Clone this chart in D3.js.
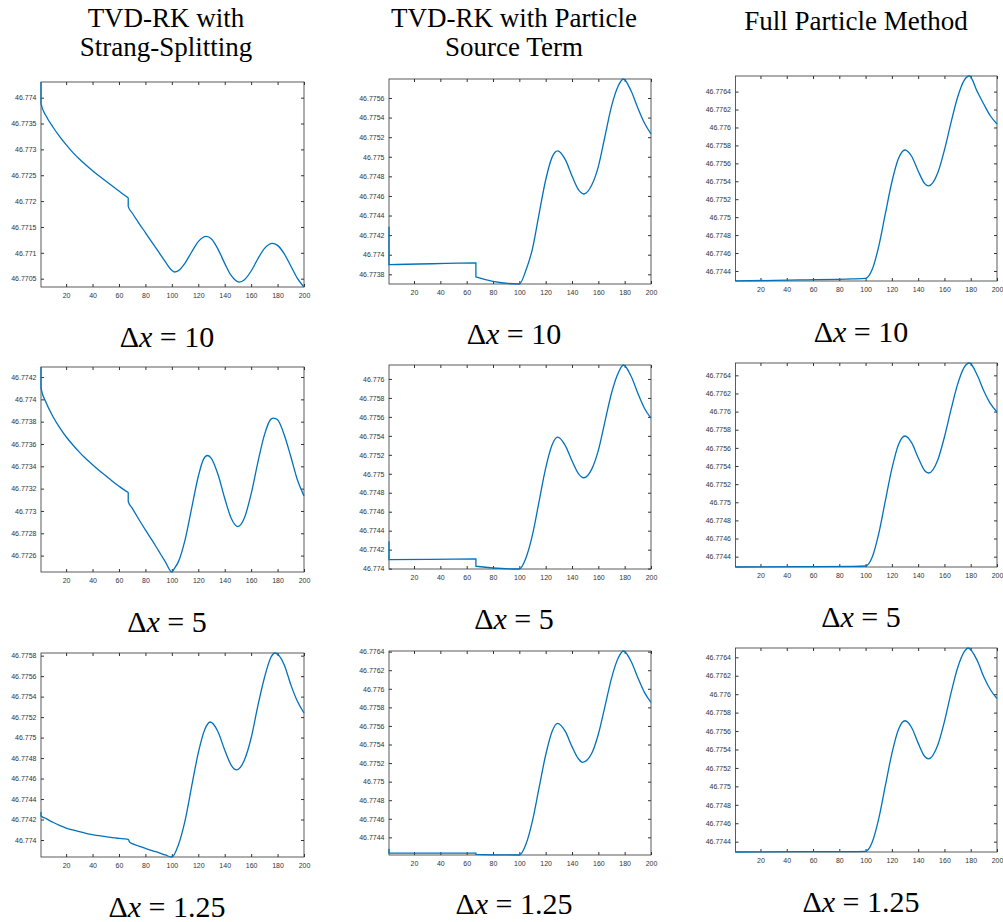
<!DOCTYPE html>
<html lang="en">
<head>
<meta charset="utf-8">
<title>Delta x comparison</title>
<script src="https://cdn.jsdelivr.net/npm/d3@7"></script>
<style>
  body { margin: 0; background: #fff; }
  svg { display: block; }
  .tick text { font-family: "Liberation Sans", Arial, sans-serif; font-size: 7px; fill: #333; }
  .title, .dx { font-family: "Liberation Serif", "DejaVu Serif", serif; fill: #000; }
</style>
</head>
<body>
<script>
// column titles and row labels
var colTitles = [["TVD-RK with", "Strang-Splitting"], ["TVD-RK with Particle", "Source Term"], ["Full Particle Method"]];
var dxLabels = ["10", "5", "1.25"];
var xTicks = [20, 40, 60, 80, 100, 120, 140, 160, 180, 200];

// row 1 (dx = 10)
var xA1 = [1, 1, 5, 10, 15, 20, 25, 30, 35, 40, 45, 50, 55, 60, 65, 67, 67, 70, 75, 80, 85, 90, 95, 100, 102, 105, 110, 115, 120, 126, 130, 135, 140, 145, 151, 155, 160, 165, 170, 176, 180, 185, 190, 195, 200];
var yA1 = [46.774303, 46.773884, 46.773639, 46.773433, 46.773252, 46.773091, 46.772943, 46.772814, 46.772698, 46.772588, 46.772485, 46.772388, 46.772292, 46.772195, 46.772098, 46.77206, 46.771899,
           46.77177, 46.771576, 46.771389, 46.771202, 46.771016, 46.770829, 46.770661, 46.770629, 46.770655, 46.770803, 46.771016, 46.771215, 46.771318,
           46.771267, 46.771067, 46.770796, 46.770558, 46.770435, 46.77048, 46.770648, 46.77088, 46.77108, 46.771183,
           46.771144, 46.770983, 46.770745, 46.770506, 46.770339];
var yTicksA1 = [46.7705, 46.771, 46.7715, 46.772, 46.7725, 46.773, 46.7735, 46.774];

var xB1 = [1, 1, 67, 67, 100, 105, 110, 115, 120, 125, 129, 135, 140, 145, 149, 155, 160, 165, 170, 175, 179, 185, 190, 195, 200];
var yB1 = [46.774285, 46.773899, 46.773916, 46.773773, 46.773701, 46.773841, 46.774063, 46.774418, 46.774763, 46.774999, 46.77506,
           46.774968, 46.774804, 46.774661, 46.77462, 46.774712, 46.7749, 46.775207, 46.775514, 46.775719, 46.775794,
           46.775668, 46.775497, 46.775344, 46.775234];
var yTicksB1 = [46.7738, 46.774, 46.7742, 46.7744, 46.7746, 46.7748, 46.775, 46.7752, 46.7754, 46.7756];

var xC1 = [1, 50, 90, 100, 105, 110, 115, 120, 125, 130, 135, 140, 145, 148, 155, 160, 165, 170, 175, 179, 185, 190, 195, 200];
var yC1 = [46.774288, 46.7743, 46.774311, 46.774318, 46.774415, 46.774675, 46.775036, 46.775392, 46.775653, 46.775749, 46.775679, 46.775515,
           46.775374, 46.775348, 46.775497, 46.775749, 46.776054, 46.776337, 46.776526, 46.776574, 46.7764, 46.776259, 46.776128, 46.776039];
var yTicksC1 = [46.7744, 46.7746, 46.7748, 46.775, 46.7752, 46.7754, 46.7756, 46.7758, 46.776, 46.7762, 46.7764];

// row 2 (dx = 5)
var xA2 = [1, 1, 5, 10, 15, 20, 25, 30, 35, 40, 45, 50, 55, 60, 65, 67, 67, 70, 75, 80, 85, 90, 95, 100, 102, 105, 110, 115, 120, 124, 127,
           130, 135, 140, 145, 150, 155, 160, 165, 170, 175, 177, 180, 185, 190, 195, 200];
var yA2 = [46.77429, 46.774101, 46.773967, 46.773847, 46.773749, 46.773665, 46.773593, 46.773527, 46.773467, 46.773414, 46.773363, 46.773315, 46.773267, 46.773222, 46.77318, 46.773165, 46.773085,
           46.773025, 46.772926, 46.77283, 46.772738, 46.772642, 46.772546, 46.772453,
           46.772486, 46.772546, 46.772741, 46.773025, 46.773309, 46.773464, 46.773497,
           46.77347, 46.773324, 46.773114, 46.772932, 46.77286,
           46.772941, 46.773153, 46.773431, 46.77368, 46.773823, 46.773832,
           46.773817, 46.773683, 46.773488, 46.773279, 46.773135];
var yTicksA2 = [46.7726, 46.7728, 46.773, 46.7732, 46.7734, 46.7736, 46.7738, 46.774, 46.7742];

var xB2 = [1, 1, 67, 67, 100, 105, 110, 115, 120, 125, 129, 135, 140, 145, 149, 155, 160, 165, 170, 175, 179, 185, 190, 195, 200];
var yB2 = [46.774288, 46.774095, 46.774102, 46.774025, 46.773996, 46.774112, 46.774358, 46.774709, 46.77506, 46.775309, 46.775386,
           46.775295, 46.775137, 46.775, 46.774958, 46.775049, 46.775246, 46.775551, 46.775849, 46.77606, 46.776147,
           46.776025, 46.775849, 46.775691, 46.775586];
var yTicksB2 = [46.774, 46.7742, 46.7744, 46.7746, 46.7748, 46.775, 46.7752, 46.7754, 46.7756, 46.7758, 46.776];

var xC2 = [1, 50, 90, 100, 105, 110, 115, 120, 125, 130, 135, 140, 145, 148, 155, 160, 165, 170, 175, 179, 185, 190, 195, 200];
var yC2 = [46.774286, 46.77429, 46.774293, 46.774297, 46.774393, 46.774654, 46.775014, 46.77537, 46.775635, 46.775731, 46.775657, 46.775492,
           46.775348, 46.775323, 46.77547, 46.77572, 46.776021, 46.7763, 46.776488, 46.776536, 46.7764, 46.776227, 46.776087, 46.775995];
var yTicksC2 = [46.7744, 46.7746, 46.7748, 46.775, 46.7752, 46.7754, 46.7756, 46.7758, 46.776, 46.7762, 46.7764];

// row 3 (dx = 1.25)
var xA3 = [1, 1, 5, 10, 15, 20, 25, 30, 35, 40, 45, 50, 55, 60, 65, 67, 68, 70, 75, 80, 85, 90, 95, 100, 105, 110, 115, 120, 125, 129,
           135, 140, 145, 149, 155, 160, 165, 170, 175, 178, 185, 190, 195, 200];
var yA3 = [46.774273, 46.774234, 46.774208, 46.774173, 46.774143, 46.774117, 46.774098, 46.774081, 46.774065, 46.774052, 46.774042, 46.774033, 46.774023, 46.774016, 46.77401,
           46.774007, 46.77398, 46.773964, 46.773941, 46.773919, 46.773896, 46.773876, 46.773854, 46.773834,
           46.773954, 46.774189, 46.774524, 46.77485, 46.775081, 46.775152,
           46.775055, 46.774879, 46.774729, 46.774684, 46.774784, 46.774996, 46.775305, 46.775582, 46.775784, 46.775826,
           46.775712, 46.775517, 46.775354, 46.77524];
var yTicksA3 = [46.774, 46.7742, 46.7744, 46.7746, 46.7748, 46.775, 46.7752, 46.7754, 46.7756, 46.7758];

var xB3 = [1, 1, 67, 67, 100, 105, 110, 115, 120, 125, 129, 135, 140, 145, 148, 155, 160, 165, 170, 175, 179, 185, 190, 195, 200];
var yB3 = [46.774274, 46.774231, 46.774231, 46.774217, 46.77421, 46.774325, 46.77458, 46.774935, 46.775287, 46.775546, 46.775628,
           46.775538, 46.775377, 46.775244, 46.775208, 46.775305, 46.77551, 46.775808, 46.776113, 46.776328, 46.776407,
           46.776292, 46.77612, 46.775962, 46.775854];
var yTicksB3 = [46.7744, 46.7746, 46.7748, 46.775, 46.7752, 46.7754, 46.7756, 46.7758, 46.776, 46.7762, 46.7764];

var xC3 = [1, 50, 90, 100, 105, 110, 115, 120, 125, 130, 135, 140, 145, 148, 155, 160, 165, 170, 175, 178, 185, 190, 195, 200];
var yC3 = [46.774288, 46.774291, 46.774293, 46.774295, 46.774393, 46.77465, 46.775005, 46.775356, 46.775617, 46.775712, 46.775639, 46.775469,
           46.775324, 46.775299, 46.775451, 46.775704, 46.776012, 46.776284, 46.776458, 46.776501, 46.776364, 46.776186, 46.776048, 46.775951];
var yTicksC3 = [46.7744, 46.7746, 46.7748, 46.775, 46.7752, 46.7754, 46.7756, 46.7758, 46.776, 46.7762, 46.7764];

var w = 1003, h = 922;
var svg = d3.select("body").append("svg").attr("width", w).attr("height", h);
svg.append("rect").attr("width", w).attr("height", h).attr("fill", "#fff");

// box = [left, top, right, bottom]
var panels = [
    {xs: xA1, ys: yA1, ticks: yTicksA1, box: [41, 82, 304, 287]},
    {xs: xB1, ys: yB1, ticks: yTicksB1, box: [389, 79, 651, 284]},
    {xs: xC1, ys: yC1, ticks: yTicksC1, box: [735.5, 76, 997, 281]},
    {xs: xA2, ys: yA2, ticks: yTicksA2, box: [41, 367, 304, 572]},
    {xs: xB2, ys: yB2, ticks: yTicksB2, box: [389, 365, 651, 569]},
    {xs: xC2, ys: yC2, ticks: yTicksC2, box: [735.5, 363, 997, 567]},
    {xs: xA3, ys: yA3, ticks: yTicksA3, box: [41, 653, 304, 857]},
    {xs: xB3, ys: yB3, ticks: yTicksB3, box: [389, 651, 651, 855]},
    {xs: xC3, ys: yC3, ticks: yTicksC3, box: [735.5, 648, 997, 852]}
];

var axisColor = "#333";

panels.forEach(function (p) {
    var b = p.box;
    var x = d3.scaleLinear().domain(d3.extent(p.xs)).range([b[0], b[2]]);
    var y = d3.scaleLinear().domain(d3.extent(p.ys)).range([b[3], b[1]]);
    var g = svg.append("g");

    function clean(sel) { sel.select(".domain").remove(); sel.attr("color", axisColor); }

    g.append("g").attr("transform", "translate(0," + b[3] + ")")
        .call(d3.axisBottom(x).tickValues(xTicks).tickSizeInner(-3).tickSizeOuter(0).tickPadding(6))
        .call(clean);
    g.append("g").attr("transform", "translate(0," + b[1] + ")")
        .call(d3.axisTop(x).tickValues(xTicks).tickSizeInner(-3).tickSizeOuter(0).tickFormat(""))
        .call(clean);
    g.append("g").attr("transform", "translate(" + b[0] + ",0)")
        .call(d3.axisLeft(y).tickValues(p.ticks).tickSizeInner(-3).tickSizeOuter(0).tickPadding(4.5)
            .tickFormat(function (d) { return String(d); }))
        .call(clean);
    g.append("g").attr("transform", "translate(" + b[2] + ",0)")
        .call(d3.axisRight(y).tickValues(p.ticks).tickSizeInner(-3).tickSizeOuter(0).tickFormat(""))
        .call(clean);

    g.append("rect")
        .attr("x", b[0]).attr("y", b[1])
        .attr("width", b[2] - b[0]).attr("height", b[3] - b[1])
        .attr("fill", "none").attr("stroke", axisColor).attr("stroke-width", 0.8);

    var line = d3.line()
        .x(function (d) { return x(d[0]); })
        .y(function (d) { return y(d[1]); })
        .curve(d3.curveMonotoneX);

    g.append("path")
        .datum(d3.zip(p.xs, p.ys))
        .attr("d", line)
        .attr("fill", "none")
        .attr("stroke", "#0072BD")
        .attr("stroke-width", 1.3);
});

// column titles
var titleX = [166, 514, 856];
var titleY = [[27, 56], [27, 56], [30]];
colTitles.forEach(function (lines, c) {
    lines.forEach(function (t, i) {
        svg.append("text").attr("class", "title")
            .attr("x", titleX[c]).attr("y", titleY[c][i])
            .attr("text-anchor", "middle")
            .attr("font-size", "27px")
            .text(t);
    });
});

// delta x labels under each panel
var dxX = [167, 514, 861];
var dxY = [[347, 344, 342], [632, 629, 627], [917, 914, 912]];
dxLabels.forEach(function (lab, r) {
    dxX.forEach(function (cx, c) {
        var t = svg.append("text").attr("class", "dx")
            .attr("x", cx).attr("y", dxY[r][c])
            .attr("text-anchor", "middle")
            .attr("font-size", "30px");
        t.append("tspan").text("\u0394");
        t.append("tspan").attr("font-style", "italic").text("x");
        t.append("tspan").text(" = " + lab);
    });
});
</script>
</body>
</html>
